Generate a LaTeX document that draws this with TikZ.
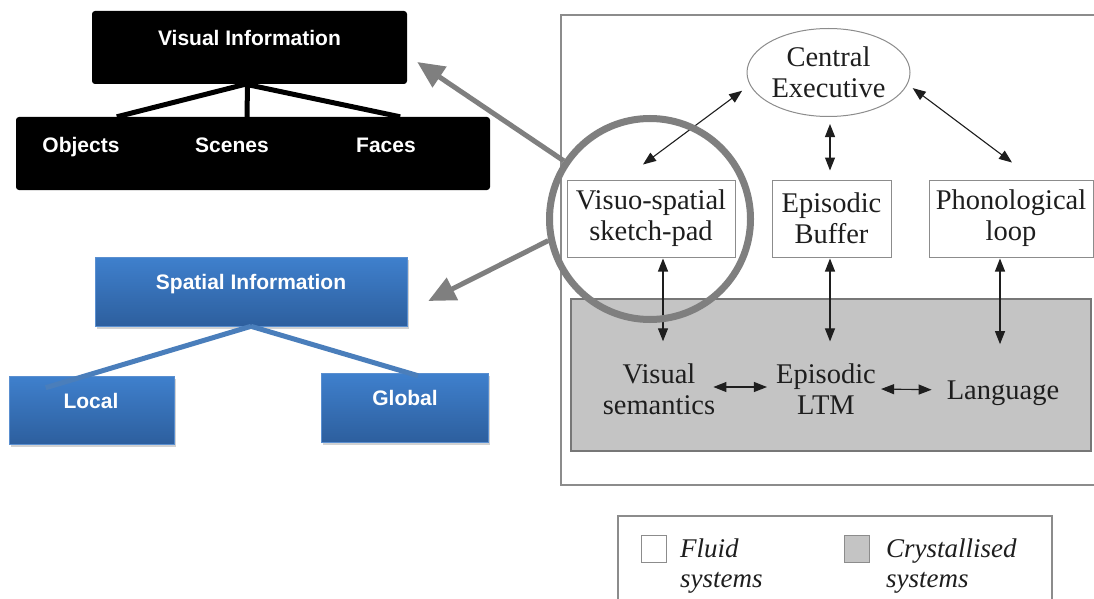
\documentclass[tikz,border=0pt]{standalone}
\usepackage{fontspec}
\setmainfont{Liberation Serif}
\setsansfont{Liberation Sans}
\usetikzlibrary{arrows.meta,calc,shapes.geometric,shadows}
\definecolor{bluetop}{HTML}{3F80CD}
\definecolor{bluebot}{HTML}{2D5F9E}
\definecolor{blueedge}{HTML}{5A8FD0}
\definecolor{blueline}{HTML}{4A7EBB}
\definecolor{arrowgray}{HTML}{7F7F7F}
\definecolor{framegray}{HTML}{8C8C8C}
\definecolor{crystal}{HTML}{C4C4C4}
\definecolor{inkdark}{HTML}{1E1E1E}
\begin{document}
\begin{tikzpicture}[x=1pt,y=-1pt,
  blackbox/.style={fill=black, rounded corners=3pt, inner sep=0pt},
  bluebox/.style={top color=bluetop, bottom color=bluebot, draw=blueedge, line width=0.6pt, inner sep=0pt,
    drop shadow={shadow xshift=1.5pt, shadow yshift=-3pt, opacity=0.35}},
  wlabel/.style={text=white, font=\sffamily\bfseries\fontsize{21}{25}\selectfont, inner sep=0pt, anchor=base},
  serifbox/.style={draw=framegray, line width=1pt, fill=white, inner sep=0pt, align=center,
    text=inkdark, font=\fontsize{28.5}{31}\selectfont},
  seriftext/.style={inner sep=0pt, align=center, text=inkdark, font=\fontsize{28.5}{31}\selectfont},
  legtext/.style={inner sep=0pt, align=left, anchor=west, text=inkdark, font=\itshape\fontsize{27}{30}\selectfont},
  dbl/.style={{Triangle[length=13pt,width=10pt]}-{Triangle[length=13pt,width=10pt]}, line width=1.1pt, draw=inkdark},
  bigarrow/.style={-{Triangle[length=27pt,width=24pt]}, line width=5pt, draw=arrowgray},
  treeline/.style={line width=5pt}
]
\useasboundingbox (0,0) rectangle (1094,599);
\fill[white] (0,0) rectangle (1094,599);

% ---------- right panel ----------
\draw[framegray, line width=1.5pt] (1094,15) -- (561,15) -- (561,485) -- (1094,485);
\node[draw=framegray!85!black, line width=1.5pt, fill=crystal, inner sep=0pt,
      minimum width=520pt, minimum height=152pt] (cryst) at (831,375) {};

\node[ellipse, serifbox, minimum width=163pt, minimum height=88pt] (ce) at (828.5,72.5) {Central\\Executive};
\node[serifbox, minimum width=168pt, minimum height=77pt] (vsp) at (651,218.5) {Visuo-spatial\\sketch-pad};
\node[serifbox, minimum width=119pt, minimum height=77pt] (eb) at (831.5,218.5) {Episodic\\Buffer};
\node[serifbox, minimum width=164pt, minimum height=77pt] (ph) at (1011,218.5) {Phonological\\loop};

\node[seriftext] (vsem) at (659,389) {Visual\\semantics};
\node[seriftext] (eltm) at (826,389) {Episodic\\LTM};
\node[seriftext, anchor=base] (lang) at (1003,399) {Language};

\draw[dbl] ($(ce.192)+(-10,2)$) -- ($(vsp.north)+(-8,-15)$);
\draw[dbl] ($(ce.south)+(1.5,7)$) -- ($(eb.north)+(-1.5,-9)$);
\draw[dbl] ($(ce.349)+(7,0.6)$) -- ($(ph.north)+(1,-17)$);

\draw[dbl] ($(vsp.south)+(12,1)$) -- ($(vsem.north)+(4,-22)$);
\draw[dbl] ($(eb.south)+(-1.5,1)$) -- ($(eltm.north)+(4,-22)$);
\draw[dbl] ($(ph.south)+(-11,1)$) -- ($(lang.north)+(-3,-36)$);

\draw[dbl] ($(vsem.east)+(-2,-2)$) -- ($(eltm.west)+(-9,-2)$);
\draw[dbl] ($(eltm.east)+(5,0)$) -- ($(lang.west)+(-15,-3)$);

% legend
\draw[framegray, line width=1.5pt] (618,599) -- (618,516) -- (1052,516) -- (1052,599);
\node[draw=framegray, line width=1pt, fill=white, inner sep=0pt, minimum width=25pt, minimum height=27pt] (fsq) at (653.5,548.5) {};
\node[draw=framegray, line width=1pt, fill=crystal, inner sep=0pt, minimum width=25pt, minimum height=27pt] (csq) at (856.5,548.5) {};
\node[legtext] (ftxt) at (680,566) {Fluid\\systems};
\node[legtext] (ctxt) at (886,566) {Crystallised\\systems};

% ---------- left: visual ----------
\node[blackbox, minimum width=315pt, minimum height=73pt] (vis) at (249.5,47.5) {};
\node[blackbox, minimum width=474pt, minimum height=73pt] (row) at (253,153.5) {};
\node[wlabel] (vist) at (249.5,46) {Visual Information};
\node[wlabel] (obj) at (81,152) {Objects};
\node[wlabel] (scn) at (232,152) {Scenes};
\node[wlabel] (fac) at (386,152) {Faces};
\draw[treeline] ($(vis.south)+(-4,0)$) -- ($(row.north west)+(101,0)$);
\draw[treeline] ($(vis.south)+(-2,0)$) -- ($(row.north)+(-6,0)$);
\draw[treeline] ($(vis.south)+(-4,0)$) -- ($(row.north east)+(-90,0)$);

% ---------- left: spatial ----------
\node[bluebox, minimum width=312pt, minimum height=69pt] (sp) at (251,291.5) {};
\node[bluebox, minimum width=165pt, minimum height=68pt] (loc) at (91.5,410) {};
\node[bluebox, minimum width=167pt, minimum height=69pt] (glob) at (404.5,407.5) {};
\draw[blueline, line width=5pt] (sp.south) -- ($(loc.north west)+(37,12)$);
\draw[blueline, line width=5pt] (sp.south) -- ($(glob.north)+(13.5,3)$);
\node[wlabel] (spt) at (251,289) {Spatial Information};
\node[wlabel] (loct) at (91,408) {Local};
\node[wlabel] (globt) at (405,405) {Global};

% ---------- magnifier ----------
\node[circle, draw=arrowgray, line width=7pt, minimum size=201pt, inner sep=0pt] (lens) at (650,219) {};
\draw[bigarrow] (lens.146) -- ($(vis.east)+(10,14.5)$);
\draw[bigarrow] (lens.192) -- ($(sp.east)+(21,9.5)$);
\end{tikzpicture}
\end{document}
